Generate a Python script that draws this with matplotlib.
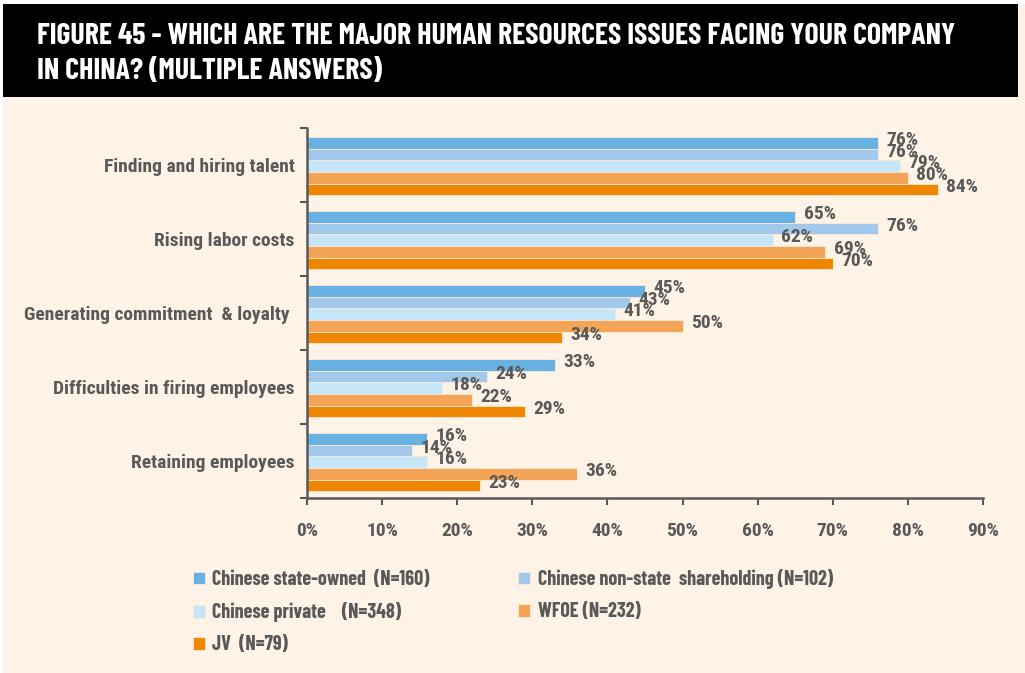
import matplotlib
matplotlib.use("Agg")
import matplotlib.pyplot as plt
from matplotlib.patches import Rectangle
import numpy as np

categories = ["Finding and hiring talent", "Rising labor costs",
              "Generating commitment  & loyalty ", "Difficulties in firing employees",
              "Retaining employees"]
series_names = ["Chinese state-owned  (N=160)", "Chinese non-state  shareholding (N=102)",
                "Chinese private    (N=348)", "WFOE (N=232)", "JV  (N=79)"]
state_owned = [76, 65, 45, 33, 16]
non_state = [76, 76, 43, 24, 14]
private = [79, 62, 41, 18, 16]
wfoe = [80, 69, 50, 22, 36]
jv = [84, 70, 34, 29, 23]
xticks = [0, 10, 20, 30, 40, 50, 60, 70, 80, 90]
title = "FIGURE 45 - WHICH ARE THE MAJOR HUMAN RESOURCES ISSUES FACING YOUR COMPANY\nIN CHINA? (MULTIPLE ANSWERS)"

colors = ["#68B2E3", "#A2C8EC", "#C5E6F8", "#F3A456", "#F08500"]
bg = "#FEF3E6"
grey = "#595959"

fam = ["Roboto Condensed", "DejaVu Sans"]
fam_narrow = ["Barlow Condensed", "Roboto Condensed", "DejaVu Sans"]
plt.rcParams["font.family"] = fam

fig = plt.figure(figsize=(10.25, 6.73), dpi=100)
fig.patch.set_facecolor(bg)
W, H = 1025, 673
fig.patches.append(Rectangle((0, 1 - 4 / H), 1, 4 / H, transform=fig.transFigure,
                             facecolor="white", edgecolor="none", zorder=0))
fig.patches.append(Rectangle((0, 0), 3 / W, 1, transform=fig.transFigure,
                             facecolor="white", edgecolor="none", zorder=0))
fig.patches.append(Rectangle((3 / W, 1 - 97 / H), 1015 / W, 93 / H, transform=fig.transFigure,
                             facecolor="black", edgecolor="none", zorder=1))
fig.text(37 / W, 1 - 54 / H, title, color="white", fontsize=21.5, fontweight="bold",
         family=fam_narrow, ha="left", va="center", linespacing=1.35, zorder=2)

ax = fig.add_axes([307 / W, 1 - 498 / H, (983 - 307) / W, (498 - 128) / H])
ax.set_facecolor(bg)
data = [state_owned, non_state, private, wfoe, jv]
n = len(categories)
ypos = np.arange(n)
bh = 0.157
for k, (vals, c) in enumerate(zip(data, colors)):
    off = (k - 2) * bh + 0.015
    ax.barh(ypos + off, vals, height=bh, color=c, edgecolor="#FBE9D6",
            linewidth=0.6, label=series_names[k])
    for yy, v in zip(ypos + off, vals):
        ax.annotate(f"{v}%", (v, yy), xytext=(6, 2), textcoords="offset points",
                    ha="left", va="center", fontsize=14, fontweight="bold", color=grey)

ax.set_xlim(0, 90)
ax.set_ylim(n - 0.5, -0.5)
ax.set_xticks(xticks)
ax.set_xticklabels([f"{t}%" for t in xticks], fontsize=14, fontweight="bold", color=grey)
ax.set_yticks(np.arange(n + 1) - 0.5)
ax.set_yticklabels([])
ax.set_yticks(ypos, minor=True)
ax.set_yticklabels(categories, minor=True, fontsize=14, fontweight="bold", color=grey)
ax.tick_params(axis="y", which="minor", length=0, pad=9)
ax.tick_params(axis="y", which="major", length=5, width=1.5, color=grey, direction="out")
ax.tick_params(axis="x", length=5, width=1.5, color=grey, pad=12)
for s in ["top", "right"]:
    ax.spines[s].set_visible(False)
for s in ["left", "bottom"]:
    ax.spines[s].set_color(grey)
    ax.spines[s].set_linewidth(1.8)

handles, labels = ax.get_legend_handles_labels()
order = [0, 2, 4, 1, 3]
leg = fig.legend([handles[i] for i in order], [labels[i] for i in order],
                 loc="upper left", bbox_to_anchor=(175 / W, 1 - 551 / H), ncol=2,
                 frameon=False, handlelength=0.6, handleheight=0.6, handletextpad=0.35,
                 columnspacing=4.4, labelspacing=0.65,
                 prop={"size": 14.5, "weight": "bold", "family": fam_narrow})
for t in leg.get_texts():
    t.set_color(grey)

fig.savefig("out.png", dpi=100, facecolor=bg)
